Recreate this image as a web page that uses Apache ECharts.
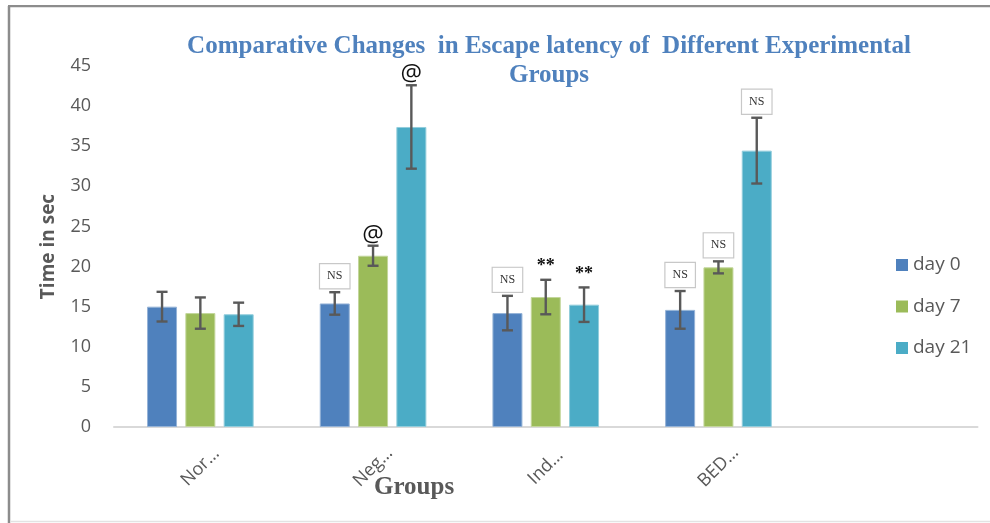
<!DOCTYPE html>
<html>
<head>
<meta charset="utf-8">
<script src="https://cdn.jsdelivr.net/npm/echarts@6/dist/echarts.min.js"></script>
<style>
  html, body { margin: 0; padding: 0; background: #ffffff; }
  #chart { width: 990px; height: 523px; }
</style>
</head>
<body>
<div id="chart"></div>
<script>
// Group labels along the x axis (the last slot is left empty)
const groups = ['Nor\u2026', 'Neg\u2026', 'Ind\u2026', 'BED\u2026', ''];

// Mean escape latency (sec) per group
const day0 = [15.0, 15.4, 14.2, 14.6];
const day7 = [14.2, 21.35, 16.2, 19.9];
const day21 = [14.05, 37.4, 15.25, 34.45];

// Error bar half-lengths (sec)
const day0Err = [1.85, 1.4, 2.15, 2.35];
const day7Err = [1.95, 1.25, 2.15, 0.75];
const day21Err = [1.45, 5.2, 2.15, 4.1];

// Significance marks above each bar
const day0Marks = ['', 'NS', 'NS', 'NS'];
const day7Marks = ['', '@', '**', 'NS'];
const day21Marks = ['', '@', '**', 'NS'];

// Y axis ticks
const yTicks = { min: 0, max: 45, step: 5 };

const seriesNames = ['day 0', 'day 7', 'day 21'];
const colors = ['#4f81bd', '#9bbb59', '#4bacc6'];
const borders = ['#95b3d7', '#c3d69b', '#92cddc'];

const BAR_W = 30;
const BAR_GAP = 8.3;
const ERR_COLOR = '#595959';

const chart = echarts.init(document.getElementById('chart'), null, { renderer: 'canvas' });

function barSeries(i, values) {
  return {
    type: 'bar',
    name: seriesNames[i],
    data: values,
    barWidth: BAR_W,
    barGap: (BAR_GAP / BAR_W * 100).toFixed(1) + '%',
    itemStyle: { color: colors[i], borderColor: borders[i], borderWidth: 1 },
    emphasis: { disabled: true },
    z: 2
  };
}

function markText(mark, x, yTop) {
  if (!mark) return null;
  if (mark === 'NS') {
    return {
      type: 'text',
      style: {
        text: 'NS', x: x, y: yTop - 4,
        align: 'center', verticalAlign: 'bottom',
        font: '12px "Liberation Serif", serif',
        fill: '#333333',
        backgroundColor: '#ffffff',
        borderColor: '#c8c8c8', borderWidth: 1.2,
        padding: [6, 7, 6, 7]
      },
      z2: 5
    };
  }
  if (mark === '@') {
    return {
      type: 'text',
      style: {
        text: '@', x: x, y: yTop + 1,
        align: 'center', verticalAlign: 'bottom',
        font: '24px "Open Sans", sans-serif',
        fill: '#111111'
      },
      z2: 5
    };
  }
  return {
    type: 'text',
    style: {
      text: mark, x: x, y: yTop - 4,
      align: 'center', verticalAlign: 'bottom',
      font: 'bold 18px "Liberation Serif", serif',
      fill: '#111111'
    },
    z2: 5
  };
}

function errorSeries(i, means, errs, marks) {
  return {
    type: 'custom',
    name: seriesNames[i] + ' error',
    data: means.map((m, k) => [k, m, errs[k]]),
    z: 4,
    silent: true,
    renderItem: function (params, api) {
      const cat = api.value(0);
      const mean = api.value(1);
      const err = api.value(2);
      const offset = (i - 1) * (BAR_W + BAR_GAP);
      const top = api.coord([cat, mean + err]);
      const bot = api.coord([cat, mean - err]);
      const x = top[0] + offset;
      const cap = 5.5;
      const lineStyle = { stroke: ERR_COLOR, lineWidth: 2.4 };
      const children = [
        { type: 'line', shape: { x1: x, y1: top[1], x2: x, y2: bot[1] }, style: lineStyle },
        { type: 'line', shape: { x1: x - cap, y1: top[1], x2: x + cap, y2: top[1] }, style: lineStyle },
        { type: 'line', shape: { x1: x - cap, y1: bot[1], x2: x + cap, y2: bot[1] }, style: lineStyle }
      ];
      const t = markText(marks[params.dataIndex], x, top[1]);
      if (t) children.push(t);
      return { type: 'group', children: children };
    }
  };
}

const option = {
  backgroundColor: '#ffffff',
  animation: false,
  title: {
    text: 'Comparative Changes  in Escape latency of  Different Experimental\nGroups',
    left: 544,
    top: 27,
    textAlign: 'center',
    textStyle: {
      fontFamily: '"Liberation Serif", serif',
      fontWeight: 'bold',
      fontSize: 25,
      lineHeight: 29,
      color: '#4f81bd'
    }
  },
  legend: {
    data: seriesNames,
    orient: 'vertical',
    left: 896,
    top: 255,
    padding: 0,
    itemWidth: 12,
    itemHeight: 12,
    itemGap: 21.5,
    icon: 'rect',
    itemStyle: { borderWidth: 0 },
    textStyle: { fontFamily: '"Open Sans", sans-serif', fontSize: 19, color: '#595959', lineHeight: 20 },
    selectedMode: false
  },
  grid: { left: 114, right: 12.5, top: 66, bottom: 96, containLabel: false },
  xAxis: {
    type: 'category',
    data: groups,
    axisLine: { lineStyle: { color: '#d9d9d9', width: 2 } },
    axisTick: { show: false },
    axisLabel: {
      rotate: 45,
      interval: 0,
      margin: 40,
      align: 'center',
      verticalAlign: 'middle',
      fontFamily: '"Open Sans", sans-serif',
      fontSize: 18,
      color: '#595959'
    },
    splitLine: { show: false }
  },
  yAxis: {
    type: 'value',
    min: yTicks.min,
    max: yTicks.max,
    interval: yTicks.step,
    axisLine: { show: false },
    axisTick: { show: false },
    splitLine: { show: false },
    axisLabel: {
      margin: 23,
      fontFamily: '"Open Sans", sans-serif',
      fontSize: 18,
      color: '#595959'
    },
    name: 'Time in sec',
    nameLocation: 'middle',
    nameGap: 56,
    nameRotate: 90,
    nameTextStyle: {
      fontFamily: '"Open Sans", sans-serif',
      fontWeight: 'bold',
      fontSize: 19,
      color: '#595959'
    }
  },
  graphic: [
    // frame around the figure
    { type: 'line', shape: { x1: 9, y1: 6, x2: 9, y2: 523 }, style: { stroke: '#8c8c8c', lineWidth: 2.5 }, silent: true },
    { type: 'line', shape: { x1: 8, y1: 6.2, x2: 990, y2: 6.2 }, style: { stroke: '#8c8c8c', lineWidth: 2.2 }, silent: true },
    { type: 'line', shape: { x1: 10, y1: 521.5, x2: 990, y2: 521.5 }, style: { stroke: '#e3e3e3', lineWidth: 1.5 }, silent: true },
    // x axis title
    {
      type: 'text',
      left: 374,
      top: 475,
      style: {
        text: 'Groups',
        font: 'bold 25px "Liberation Serif", serif',
        fill: '#595959'
      },
      silent: true
    }
  ],
  series: [
    barSeries(0, day0),
    barSeries(1, day7),
    barSeries(2, day21),
    errorSeries(0, day0, day0Err, day0Marks),
    errorSeries(1, day7, day7Err, day7Marks),
    errorSeries(2, day21, day21Err, day21Marks)
  ]
};

chart.setOption(option);
</script>
</body>
</html>
